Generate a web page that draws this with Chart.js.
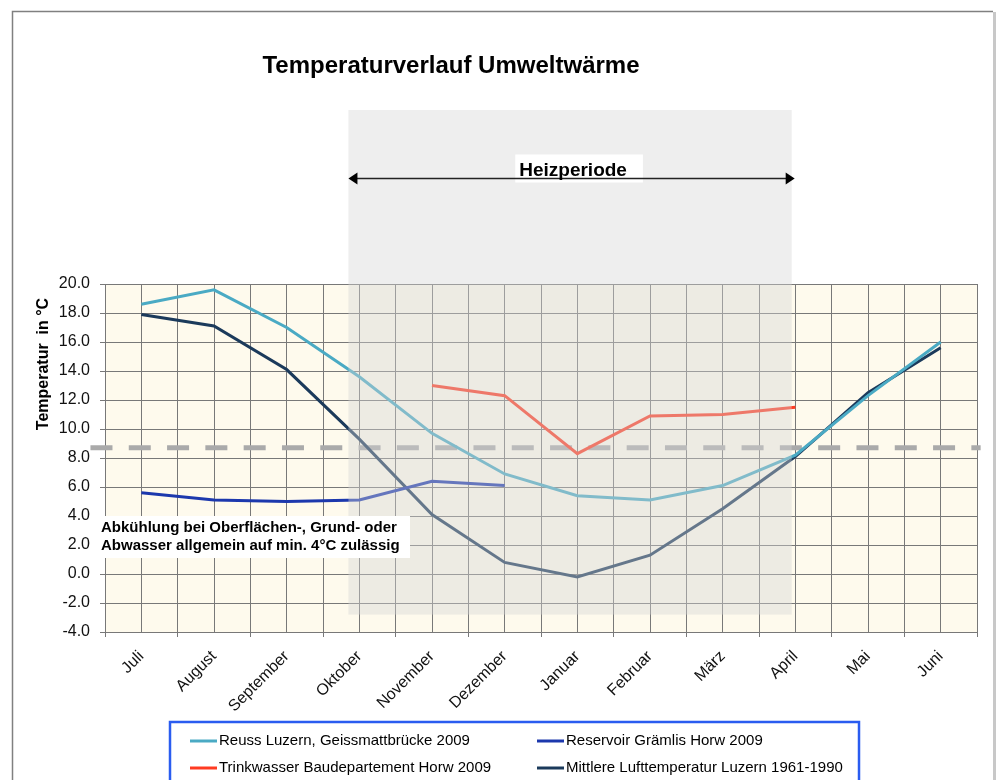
<!DOCTYPE html>
<html>
<head>
<meta charset="utf-8">
<title>Temperaturverlauf Umweltwärme</title>
<script src="https://cdn.jsdelivr.net/npm/chart.js@4.4.1/dist/chart.umd.min.js"></script>
<style>
  body { margin: 0; background: #fff; }
  #wrap { width: 996px; height: 780px; }
</style>
</head>
<body>
<div id="wrap"><canvas id="tempChart"></canvas></div>
<script>
// Monate, Juli bis Juni
var months = ['Juli', 'August', 'September', 'Oktober', 'November', 'Dezember',
  'Januar', 'Februar', 'März', 'April', 'Mai', 'Juni'];

// Temperaturen in °C
var reussLuzern = [18.6, 19.6, 17.0, 13.6, 9.7, 6.9, 5.4, 5.1, 6.1, 8.2, 12.3, 16.0];
var reservoirHorw = [5.6, 5.1, 5.0, 5.1, 6.4, 6.1, null, null, null, null, null, null];
var trinkwasserHorw = [null, null, null, null, 13.0, 12.3, 8.3, 10.9, 11.0, 11.5, null, null];
var lufttempLuzern = [17.9, 17.1, 14.1, 9.3, 4.1, 0.8, -0.2, 1.3, 4.5, 8.1, 12.5, 15.6];

var seriesNames = ['Reuss Luzern, Geissmattbrücke 2009', 'Reservoir Grämlis Horw 2009',
  'Trinkwasser Baudepartement Horw 2009', 'Mittlere Lufttemperatur Luzern 1961-1990'];
var seriesColors = ['#4aaac4', '#1c38ad', '#ff3b22', '#1b3a5b'];

// y-Achse
var yMin = -4, yMax = 20, yStep = 2;

// Grenzlinie und Heizperiode (Monatsindex)
var limitTemp = 8.7;
var heizStart = 2.85, heizEnd = 8.95;

var FONT = "'Liberation Sans', Arial, sans-serif";
var GRID = '#787878';

function toPoints(arr) {
  return arr.map(function (v, i) { return { x: i, y: v }; });
}

var allSeries = [reussLuzern, reservoirHorw, trinkwasserHorw, lufttempLuzern];
var datasets = allSeries.map(function (s, i) {
  return {
    label: seriesNames[i],
    data: toPoints(s),
    borderColor: seriesColors[i],
    backgroundColor: seriesColors[i],
    borderWidth: 3,
    pointRadius: 0,
    tension: 0,
    spanGaps: false
  };
});

var decor = {
  id: 'decor',
  beforeDraw: function (chart) {
    var ctx = chart.ctx, a = chart.chartArea;
    ctx.save();
    ctx.fillStyle = '#fff';
    ctx.fillRect(0, 0, chart.width, chart.height);
    ctx.fillStyle = '#fefaed';
    ctx.fillRect(a.left, a.top, a.right - a.left, a.bottom - a.top);
    // Seitenrahmen
    ctx.strokeStyle = '#808080';
    ctx.lineWidth = 1.5;
    ctx.beginPath();
    ctx.moveTo(12.5, chart.height);
    ctx.lineTo(12.5, 11.5);
    ctx.lineTo(993, 11.5);
    ctx.stroke();
    ctx.fillStyle = '#c8c8c8';
    ctx.fillRect(993, 12, 3, chart.height);
    ctx.restore();
  },
  beforeDatasetsDraw: function (chart) {
    var ctx = chart.ctx, xs = chart.scales.x, ys = chart.scales.y;
    var y = ys.getPixelForValue(limitTemp);
    ctx.save();
    ctx.strokeStyle = '#aaaaaa';
    ctx.lineWidth = 5;
    ctx.setLineDash([22, 16.3]);
    ctx.beginPath();
    ctx.moveTo(xs.getPixelForValue(-0.7), y);
    ctx.lineTo(xs.getPixelForValue(11.55), y);
    ctx.stroke();
    ctx.restore();
  },
  afterDatasetsDraw: function (chart) {
    var ctx = chart.ctx, xs = chart.scales.x, ys = chart.scales.y;
    var x1 = xs.getPixelForValue(heizStart), x2 = xs.getPixelForValue(heizEnd);
    var top = ys.getPixelForValue(32), bot = ys.getPixelForValue(-2.8);
    ctx.save();
    // Heizperiode hinterlegt
    ctx.fillStyle = 'rgba(213,213,213,0.40)';
    ctx.fillRect(x1, top, x2 - x1, bot - top);

    // Pfeil mit Beschriftung
    var ay = Math.round(ys.getPixelForValue(27.3)) + 0.5;
    ctx.font = 'bold 19px ' + FONT;
    var label = 'Heizperiode';
    var tw = ctx.measureText(label).width;
    var tx = (x1 + x2) / 2 - tw / 2 + 3;
    ctx.fillStyle = '#fff';
    ctx.fillRect(tx - 4, ay - 24, tw + 20, 28);
    ctx.strokeStyle = '#222';
    ctx.lineWidth = 1.5;
    ctx.beginPath();
    ctx.moveTo(x1 + 6, ay);
    ctx.lineTo(x2 - 3, ay);
    ctx.stroke();
    ctx.fillStyle = '#000';
    ctx.beginPath();
    ctx.moveTo(x1, ay); ctx.lineTo(x1 + 9, ay - 6); ctx.lineTo(x1 + 9, ay + 6); ctx.closePath();
    ctx.fill();
    ctx.beginPath();
    ctx.moveTo(x2 + 3, ay); ctx.lineTo(x2 - 6, ay - 6); ctx.lineTo(x2 - 6, ay + 6); ctx.closePath();
    ctx.fill();
    ctx.textBaseline = 'middle';
    ctx.textAlign = 'left';
    ctx.fillText(label, tx, ay - 8);

    // Hinweis 4°C
    ctx.fillStyle = '#fff';
    ctx.fillRect(98, 516, 312, 42);
    ctx.fillStyle = '#000';
    ctx.font = 'bold 15px ' + FONT;
    ctx.fillText('Abkühlung bei Oberflächen-, Grund- oder', 101, 528);
    ctx.fillText('Abwasser allgemein auf min. 4°C zulässig', 101, 546);
    ctx.restore();
  },
  afterDraw: function (chart) {
    var ctx = chart.ctx;
    ctx.save();
    ctx.fillStyle = '#000';
    ctx.textBaseline = 'middle';
    ctx.textAlign = 'center';
    ctx.font = 'bold 24px ' + FONT;
    ctx.fillText('Temperaturverlauf Umweltwärme', 451, 66);

    // y-Achsentitel
    ctx.save();
    ctx.translate(44, 364);
    ctx.rotate(-Math.PI / 2);
    ctx.font = 'bold 16px ' + FONT;
    ctx.fillText('Temperatur  in °C', 0, 0);
    ctx.restore();

    // Legende
    ctx.fillStyle = '#fff';
    ctx.fillRect(170, 722, 689, 70);
    ctx.strokeStyle = '#2a5cf0';
    ctx.lineWidth = 2.5;
    ctx.strokeRect(170, 722, 689, 70);
    var cols = [190, 537], rows = [741, 768];
    ctx.font = '15px ' + FONT;
    ctx.textAlign = 'left';
    chart.data.datasets.forEach(function (ds, i) {
      var cx = cols[i % 2], cy = rows[Math.floor(i / 2)];
      ctx.strokeStyle = ds.borderColor;
      ctx.lineWidth = 3;
      ctx.beginPath();
      ctx.moveTo(cx, cy);
      ctx.lineTo(cx + 27, cy);
      ctx.stroke();
      ctx.fillStyle = '#000';
      ctx.fillText(ds.label, cx + 29, cy);
    });
    ctx.restore();
  }
};

var ctx = document.getElementById('tempChart').getContext('2d');
var tempChart = new Chart(ctx, {
  type: 'line',
  data: { datasets: datasets },
  plugins: [decor],
  options: {
    responsive: true,
    maintainAspectRatio: false,
    animation: false,
    layout: { padding: { left: 45, top: 284, right: 19, bottom: 68 } },
    plugins: {
      legend: { display: false },
      tooltip: { enabled: false },
      title: { display: false }
    },
    scales: {
      x: {
        type: 'linear',
        min: -0.5,
        max: 11.5,
        afterFit: function (s) {
          s.height = 80;
          s.paddingLeft = 0;
          s.paddingRight = 0;
        },
        grid: {
          color: GRID,
          tickLength: 5,
          tickColor: function (c) {
            return Number.isInteger(c.tick.value) ? 'rgba(0,0,0,0)' : GRID;
          }
        },
        border: { color: GRID },
        ticks: {
          stepSize: 0.5,
          autoSkip: false,
          minRotation: 45,
          maxRotation: 45,
          padding: 10,
          color: '#111',
          font: { family: FONT, size: 16 },
          callback: function (v) {
            return Number.isInteger(v) ? months[v] : '';
          }
        }
      },
      y: {
        min: yMin,
        max: yMax,
        afterFit: function (s) { s.width = 60; },
        grid: { color: GRID, tickLength: 5, tickColor: GRID },
        border: { color: GRID },
        ticks: {
          stepSize: yStep,
          padding: 10,
          color: '#111',
          font: { family: FONT, size: 16 },
          callback: function (v) { return v.toFixed(1); }
        }
      }
    }
  }
});
</script>
</body>
</html>
